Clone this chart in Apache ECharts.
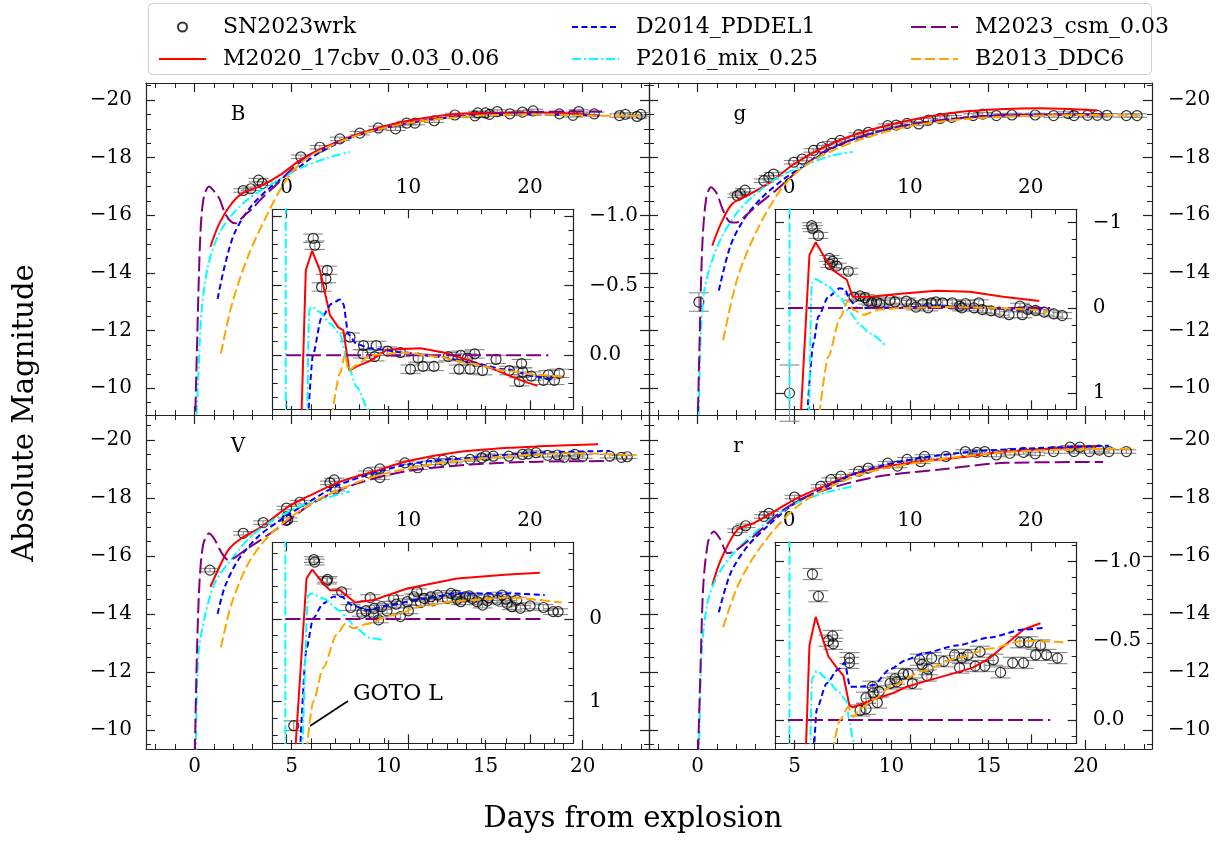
<!DOCTYPE html>
<html><head><meta charset="utf-8">
<script src="https://cdn.jsdelivr.net/npm/echarts@6/dist/echarts.min.js"></script>
<style>html,body{margin:0;padding:0;background:#fff}#c{width:1229px;height:844px}</style>
</head><body><div id="c"></div>
<script>
// ---------------- DATA ----------------
const BANDS = ['B','g','V','r'];
const NAMES = {SN:'SN2023wrk', M2020:'M2020_17cbv_0.03_0.06', D2014:'D2014_PDDEL1', P2016:'P2016_mix_0.25', M2023:'M2023_csm_0.03', B2013:'B2013_DDC6'};

// main-panel axes
const MAIN_X_TICKS = [0,5,10,15,20];
const MAIN_Y_TICKS = [-20,-18,-16,-14,-12,-10];
const INSET_X_TICKS = [0,10,20];
const INSET_Y_TICKS_B = [-1,-0.5,0];
const INSET_Y_TICKS_G = [-1,0,1];
const INSET_Y_TICKS_V = [0,1];
const INSET_Y_TICKS_R = [-1,-0.5,0];

// ---- B band, main ----
const B_SN = [[2.51,-16.86],[2.9,-16.92],[3.3,-17.22],[3.5,-17.1],[5.48,-18.03],[6.46,-18.36],[7.49,-18.65],[8.52,-18.85],[9.47,-19.03],[10.36,-19.0],[10.93,-19.2],[11.36,-19.2],[12.35,-19.28],[13.42,-19.48],[14.45,-19.45],[14.6,-19.55],[15.0,-19.55],[15.2,-19.5],[15.6,-19.6],[16.25,-19.52],[16.9,-19.58],[17.45,-19.62],[18.8,-19.52],[19.5,-19.47],[19.8,-19.6],[20.6,-19.52],[21.9,-19.46],[22.2,-19.5],[22.8,-19.43],[23.0,-19.5]];
const B_M2020 = [[0.82,-14.9],[1.2,-15.6],[1.77,-16.28],[2.42,-16.74],[3.45,-17.03],[4.48,-17.43],[5.52,-17.95],[6.72,-18.36],[8.44,-18.82],[11.0,-19.28],[14.45,-19.55],[17.9,-19.57],[20.8,-19.46]];
const B_D2014 = [[1.19,-13.1],[1.56,-14.26],[2.08,-15.41],[2.94,-16.33],[4.14,-17.1],[5.34,-17.65],[6.5,-18.2],[8.5,-18.8],[11.0,-19.2],[14.5,-19.47],[18.0,-19.5],[21.0,-19.45]];
const B_P2016 = [[0.06,-8.5],[0.19,-10.33],[0.36,-12.65],[0.7,-14.26],[1.22,-15.3],[1.9,-15.99],[2.77,-16.57],[4.14,-17.15],[5.34,-17.6],[6.89,-18.0],[8.0,-18.2]];
const B_M2023 = [[0.02,-8.5],[0.15,-12.0],[0.3,-15.3],[0.47,-16.6],[0.75,-17.0],[1.05,-16.8],[1.3,-16.55],[1.55,-16.1],[1.85,-15.8],[2.1,-15.72],[2.5,-15.95],[3.0,-16.25],[3.56,-16.65],[4.2,-17.05],[5.0,-17.6],[6.0,-18.1],[8.0,-18.7],[10.0,-19.05],[13.0,-19.4],[16.0,-19.55],[19.0,-19.6],[21.0,-19.6]];
const B_B2013 = [[1.36,-11.2],[1.91,-12.87],[2.77,-14.6],[3.8,-16.1],[4.65,-17.15],[5.52,-17.84],[6.5,-18.25],[8.5,-18.8],[11.0,-19.2],[14.5,-19.45],[18.0,-19.5],[21.0,-19.45],[23.1,-19.45]];

// ---- g band, main ----
const G_SN = [[0.07,-12.99,0.32],[2.05,-16.68],[2.2,-16.74],[2.45,-16.87],[3.42,-17.2],[3.68,-17.32],[3.92,-17.43],[4.96,-17.84],[5.39,-17.95],[5.98,-18.25],[6.4,-18.36],[6.93,-18.5],[7.35,-18.6],[8.3,-18.8],[8.8,-18.88],[9.8,-19.11],[10.24,-19.13],[10.8,-19.19],[11.4,-19.17],[11.9,-19.3],[12.5,-19.36],[13.1,-19.4],[14.2,-19.46],[14.7,-19.51],[15.4,-19.46],[16.2,-19.48],[17.4,-19.48],[18.35,-19.46],[19.1,-19.53],[19.4,-19.46],[20.1,-19.47],[20.6,-19.47],[21.1,-19.47],[22.1,-19.46],[22.65,-19.46]];
const G_M2020 = [[0.76,-14.95],[1.2,-15.7],[1.79,-16.4],[2.73,-16.74],[3.76,-17.15],[4.96,-17.77],[6.5,-18.36],[8.2,-18.82],[10.8,-19.28],[13.3,-19.57],[15.9,-19.69],[17.6,-19.71],[20.6,-19.64]];
const G_D2014 = [[1.1,-13.39],[1.7,-14.95],[2.4,-15.87],[3.24,-16.56],[4.45,-17.26],[5.65,-17.78],[7.0,-18.35],[9.0,-18.85],[11.0,-19.15],[14.0,-19.4],[17.0,-19.48],[21.0,-19.5]];
const G_P2016 = [[0.05,-8.5],[0.15,-11.5],[0.33,-13.3],[0.67,-14.26],[1.2,-15.18],[2.05,-16.1],[3.1,-16.8],[4.3,-17.38],[5.7,-17.78],[6.9,-18.07],[8.0,-18.2]];
const G_M2023 = [[0.0,-8.5],[0.12,-12.0],[0.25,-15.0],[0.45,-16.6],[0.7,-16.97],[1.0,-16.75],[1.3,-16.2],[1.7,-15.76],[2.0,-15.75],[2.5,-16.0],[3.0,-16.3],[4.1,-16.9],[5.1,-17.5],[6.5,-18.2],[8.5,-18.75],[11.0,-19.15],[14.0,-19.4],[17.0,-19.5],[21.0,-19.5]];
const G_B2013 = [[1.32,-11.66],[2.05,-13.8],[3.1,-15.53],[4.3,-16.9],[5.3,-17.6],[6.5,-18.1],[8.5,-18.65],[11.0,-19.1],[14.0,-19.35],[17.0,-19.45],[20.0,-19.48],[22.8,-19.46]];

// ---- V band, main ----
const V_SN = [[0.79,-15.51],[2.51,-16.78],[3.54,-17.15],[4.74,-17.65],[4.8,-17.25],[5.43,-17.85],[6.98,-18.52],[7.2,-18.62],[7.25,-18.3],[8.95,-18.87],[9.55,-19.0],[9.55,-18.7],[10.84,-19.21],[11.5,-19.04],[12.2,-19.21],[12.8,-19.3],[13.3,-19.27],[14.2,-19.33],[14.8,-19.38],[15.0,-19.45],[15.4,-19.44],[16.2,-19.44],[16.9,-19.5],[17.2,-19.52],[17.6,-19.56],[18.2,-19.47],[18.7,-19.48],[19.05,-19.4],[19.6,-19.5],[20.0,-19.43],[21.4,-19.44],[22.0,-19.4],[22.3,-19.42]];
const V_M2020 = [[0.82,-14.93],[1.74,-16.2],[2.42,-16.61],[3.45,-17.0],[4.83,-17.7],[5.84,-18.05],[7.55,-18.57],[9.3,-18.92],[11.0,-19.27],[13.6,-19.58],[16.2,-19.73],[18.8,-19.81],[20.8,-19.85]];
const V_D2014 = [[1.19,-14.0],[1.56,-14.93],[2.25,-15.86],[3.3,-16.68],[4.5,-17.27],[5.84,-17.84],[7.55,-18.48],[11.0,-19.16],[14.4,-19.39],[17.8,-19.56],[21.4,-19.62]];
const V_P2016 = [[0.06,-8.5],[0.19,-12.5],[0.53,-13.9],[1.05,-15.07],[1.9,-15.88],[2.94,-16.69],[4.14,-17.27],[5.5,-17.73],[6.9,-18.02],[8.0,-18.22]];
const V_M2023 = [[0.0,-8.5],[0.1,-12.0],[0.25,-15.0],[0.45,-16.4],[0.75,-16.78],[1.05,-16.55],[1.4,-16.1],[1.74,-15.86],[2.1,-15.95],[2.6,-16.2],[3.3,-16.5],[4.6,-17.1],[6.15,-17.85],[8.4,-18.5],[11.0,-18.93],[14.4,-19.16],[17.8,-19.25],[21.4,-19.27]];
const V_B2013 = [[1.36,-12.85],[1.91,-14.35],[2.77,-15.74],[3.8,-16.67],[5.0,-17.36],[6.7,-18.05],[9.3,-18.75],[12.7,-19.21],[16.2,-19.44],[19.6,-19.54],[22.7,-19.47]];

// ---- r band, main ----
const R_SN = [[2.05,-16.87],[2.48,-17.04],[3.42,-17.36],[3.68,-17.47],[5.0,-18.03],[6.35,-18.4],[6.87,-18.63],[7.39,-18.75],[8.3,-18.92],[8.8,-19.03],[9.8,-19.2],[10.3,-19.1],[10.8,-19.33],[11.5,-19.25],[11.7,-19.43],[12.8,-19.43],[13.8,-19.6],[14.4,-19.57],[14.8,-19.6],[15.4,-19.48],[16.1,-19.54],[16.8,-19.57],[17.4,-19.52],[18.35,-19.6],[19.2,-19.75],[19.4,-19.6],[19.7,-19.75],[20.2,-19.6],[20.7,-19.65],[21.2,-19.6],[22.1,-19.6]];
const R_M2020 = [[0.76,-14.99],[1.2,-15.86],[2.05,-16.9],[2.9,-17.13],[3.95,-17.53],[5.15,-18.0],[6.5,-18.4],[8.2,-18.86],[10.8,-19.2],[13.3,-19.38],[15.9,-19.6],[18.5,-19.72],[20.7,-19.8]];
const R_D2014 = [[1.1,-14.06],[1.7,-15.4],[2.56,-16.32],[3.6,-17.02],[4.8,-17.71],[6.0,-18.17],[8.2,-18.86],[10.8,-19.3],[14.2,-19.6],[17.6,-19.72],[21.2,-19.8]];
const R_P2016 = [[0.07,-8.5],[0.2,-12.5],[0.5,-14.35],[1.0,-15.28],[1.7,-15.97],[2.73,-16.67],[3.95,-17.36],[5.3,-17.88],[6.7,-18.2],[8.0,-18.4]];
const R_M2023 = [[0.0,-8.5],[0.15,-12.0],[0.3,-15.0],[0.55,-16.5],[0.84,-16.84],[1.15,-16.6],[1.56,-16.09],[2.0,-16.2],[3.1,-16.8],[4.45,-17.6],[6.0,-18.15],[9.0,-18.7],[12.5,-18.98],[15.9,-19.21],[20.9,-19.24]];
const R_B2013 = [[1.32,-13.54],[2.05,-14.93],[2.9,-15.97],[3.95,-16.9],[5.15,-17.71],[6.7,-18.35],[9.0,-18.92],[12.5,-19.33],[15.9,-19.58],[19.3,-19.67],[22.5,-19.7]];

// ---- insets ----
const B_IN_SN = [[2.18,-0.84],[2.31,-0.79],[2.87,-0.49],[3.22,-0.55],[3.33,-0.61],[5.2,-0.13],[6.31,-0.07],[6.26,-0.01],[7.36,-0.07],[7.22,0.01],[8.29,-0.03],[9.34,-0.02],[10.17,0.10],[10.8,0.02],[11.2,0.08],[12.1,0.08],[13.28,0.01],[14.16,0.10],[14.3,0.0],[14.85,0.02],[15.07,0.10],[15.45,-0.01],[16.09,0.11],[17.2,0.03],[18.29,0.11],[19.12,0.19],[19.3,0.06],[19.4,0.12],[20.1,0.15],[21.1,0.18],[21.5,0.14],[22.0,0.18],[22.4,0.13]];
const B_IN_M2020 = [[1.21,0.45],[1.57,-0.61],[2.09,-0.75],[2.73,-0.61],[3.55,-0.29],[4.24,-0.2],[4.65,-0.18],[5.15,0.11],[5.76,0.08],[6.86,0.04],[8.24,-0.04],[11.0,-0.05],[12.9,-0.02],[15.1,0.04],[17.3,0.11],[19.26,0.18],[20.6,0.22]];
const B_IN_D2014 = [[1.76,0.45],[2.17,-0.01],[2.86,-0.27],[3.69,-0.37],[4.38,-0.40],[4.65,-0.37],[5.07,-0.15],[5.76,-0.08],[6.86,-0.05],[9.6,-0.02],[12.4,0.01],[15.1,0.05],[17.9,0.10],[20.6,0.155],[22.0,0.18]];
const B_IN_P2016_EARLY = [[-0.08,0.45],[-0.08,-1.1]];
const B_IN_P2016 = [[1.68,0.45],[1.85,-0.32],[2.04,-0.35],[2.73,-0.31],[3.55,-0.23],[4.38,-0.15],[5.07,0.08],[5.76,0.23],[6.72,0.39],[6.9,0.42]];
const B_IN_M2023 = [[-0.05,0],[21.5,0]];
const B_IN_B2013 = [[3.69,0.45],[4.38,0.13],[4.8,-0.01],[5.07,0.11],[5.76,0.07],[6.86,0.0],[9.6,-0.02],[12.4,0.01],[15.1,0.06],[17.9,0.11],[20.6,0.14],[22.6,0.155]];

const G_IN_SN = [[0.03,1.0,0.33],[1.87,-0.965],[1.95,-0.93],[2.42,-0.85],[3.33,-0.58],[3.6,-0.545],[3.39,-0.51],[3.94,-0.49],[4.9,-0.43],[5.37,-0.126],[5.87,-0.14],[6.28,-0.12],[6.56,-0.08],[6.83,-0.06],[7.24,-0.07],[7.5,-0.05],[8.35,-0.09],[8.76,-0.07],[9.7,-0.08],[10.1,-0.05],[10.5,-0.01],[11.07,-0.05],[11.5,0.0],[11.76,-0.06],[12.15,-0.07],[12.7,-0.06],[13.5,-0.06],[14.1,-0.02],[14.3,0.0],[14.6,-0.05],[15.3,0.0],[15.7,-0.06],[16.0,0.02],[16.7,0.035],[17.4,0.05],[18.2,0.08],[19.1,-0.02],[19.3,0.08],[19.75,0.02],[20.4,0.03],[21.1,0.05],[21.9,0.07],[22.6,0.09]];
const G_IN_M2020 = [[0.97,1.25],[1.68,-0.62],[2.2,-0.77],[3.53,-0.45],[4.77,-0.33],[5.26,-0.13],[6.7,-0.13],[9.45,-0.17],[12.2,-0.2],[14.96,-0.19],[17.7,-0.13],[20.7,-0.08]];
const G_IN_D2014 = [[1.5,1.25],[2.0,0.42],[2.42,0.10],[3.25,-0.13],[4.2,-0.23],[4.6,-0.22],[5.04,-0.09],[5.6,0.0],[8.0,0.0],[12.0,-0.02],[16.0,0.0],[19.0,0.02],[21.2,0.02]];
const G_IN_P2016_EARLY = [[0.03,1.3],[0.03,-1.3]];
const G_IN_P2016 = [[1.66,1.25],[1.87,-0.29],[2.15,-0.34],[3.1,-0.27],[4.2,-0.13],[5.04,0.06],[5.87,0.2],[6.7,0.3],[7.93,0.435]];
const G_IN_M2023 = [[-0.1,0],[21.6,0]];
const G_IN_B2013 = [[2.5,1.25],[3.25,0.57],[4.2,0.12],[4.9,-0.09],[5.26,0.02],[6.15,0.08],[7.5,0.02],[9.45,0.0],[13.0,-0.01],[17.0,0.0],[20.0,0.02],[21.4,0.05]];

const V_IN_SN = [[0.58,1.29,0.06],[2.23,-0.72],[2.3,-0.69],[3.28,-0.46],[3.35,-0.48],[4.52,-0.33],[5.26,-0.14],[6.17,-0.07],[6.5,-0.1],[6.86,-0.26],[7.13,-0.06],[7.2,-0.13],[7.55,0.01],[7.8,-0.15],[8.24,-0.1],[8.79,-0.25],[9.0,-0.18],[9.34,-0.03],[9.9,-0.21],[10.0,-0.1],[10.46,-0.27],[10.7,-0.33],[11.0,-0.2],[11.3,-0.25],[11.85,-0.27],[12.0,-0.22],[12.4,-0.29],[13.2,-0.25],[13.5,-0.31],[13.9,-0.29],[14.0,-0.24],[14.3,-0.21],[14.7,-0.27],[15.0,-0.28],[15.25,-0.25],[15.65,-0.21],[16.1,-0.17],[16.5,-0.22],[16.6,-0.26],[17.3,-0.23],[17.7,-0.29],[18.0,-0.24],[18.1,-0.19],[18.5,-0.15],[18.9,-0.23],[19.2,-0.13],[20.0,-0.16],[21.1,-0.14],[21.9,-0.09],[22.3,-0.09]];
const V_IN_M2020 = [[0.7,1.6],[1.63,-0.49],[2.1,-0.60],[3.0,-0.43],[3.55,-0.35],[4.38,-0.35],[5.62,-0.2],[7.13,-0.23],[9.9,-0.37],[14.0,-0.49],[18.2,-0.54],[20.8,-0.56]];
const V_IN_D2014 = [[1.1,1.6],[1.63,0.35],[2.18,-0.01],[3.0,-0.19],[3.83,-0.27],[4.52,-0.27],[5.35,-0.17],[6.6,-0.11],[8.5,-0.17],[11.3,-0.25],[14.0,-0.31],[18.2,-0.31],[21.2,-0.29]];
const V_IN_P2016_EARLY = [[-0.11,1.6],[-0.11,-1.0]];
const V_IN_P2016 = [[1.3,1.6],[1.76,-0.29],[2.04,-0.31],[3.0,-0.25],[4.4,-0.1],[5.0,0.0],[5.76,0.12],[6.86,0.23],[7.8,0.25]];
const V_IN_M2023 = [[-0.1,0],[21.2,0]];
const V_IN_B2013 = [[1.63,1.6],[2.18,1.0],[3.0,0.59],[4.1,0.19],[4.8,0.06],[5.5,0.11],[6.6,0.06],[8.5,-0.04],[11.3,-0.16],[14.0,-0.22],[18.2,-0.26],[22.6,-0.2]];

const R_IN_SN = [[1.93,-0.92],[2.42,-0.78],[3.25,-0.50],[3.6,-0.53],[3.65,-0.48],[4.99,-0.39],[4.99,-0.36],[5.87,-0.06],[6.36,-0.07],[6.36,-0.14],[6.9,-0.21],[6.95,-0.17],[7.3,-0.11],[7.44,-0.18],[8.35,-0.23],[8.76,-0.26],[8.9,-0.24],[9.45,-0.29],[9.86,-0.29],[10.2,-0.23],[10.8,-0.38],[11.0,-0.35],[11.4,-0.28],[11.5,-0.32],[11.8,-0.39],[12.8,-0.37],[13.7,-0.41],[14.1,-0.33],[14.3,-0.39],[14.8,-0.41],[15.4,-0.34],[15.8,-0.43],[16.2,-0.34],[16.9,-0.38],[17.5,-0.30],[18.5,-0.36],[19.1,-0.49],[19.4,-0.36],[19.8,-0.49],[20.4,-0.41],[20.8,-0.47],[21.3,-0.41],[22.2,-0.39]];
const R_IN_M2020 = [[1.38,0.2],[1.68,-0.47],[2.2,-0.65],[3.25,-0.40],[3.94,-0.33],[4.49,-0.28],[4.99,-0.09],[5.3,-0.08],[6.97,-0.13],[8.63,-0.17],[9.73,-0.21],[11.1,-0.24],[12.5,-0.27],[13.9,-0.30],[15.2,-0.33],[16.6,-0.39],[18.0,-0.48],[19.4,-0.57],[20.8,-0.61]];
const R_IN_D2014 = [[2.05,0.2],[2.29,-0.07],[3.1,-0.23],[4.05,-0.32],[4.6,-0.36],[5.04,-0.21],[5.87,-0.21],[6.97,-0.22],[8.35,-0.32],[9.73,-0.38],[11.1,-0.42],[13.9,-0.47],[16.6,-0.52],[19.4,-0.57],[21.0,-0.58]];
const R_IN_P2016_EARLY = [[0.03,0.2],[0.03,-1.2]];
const R_IN_P2016 = [[1.75,0.2],[1.88,-0.26],[2.3,-0.31],[3.1,-0.26],[4.05,-0.18],[4.75,-0.12],[4.96,0.0],[5.3,0.13],[5.6,0.2]];
const R_IN_M2023 = [[-0.1,0],[21.6,0]];
const R_IN_B2013 = [[3.6,0.2],[4.2,0.0],[4.9,-0.08],[5.3,-0.02],[5.87,-0.07],[6.97,-0.13],[8.63,-0.22],[11.1,-0.31],[13.9,-0.39],[16.6,-0.45],[19.4,-0.50],[22.7,-0.49]];

// ---------------- STYLE / LAYOUT ----------------
const FONT = 'DejaVu Serif';
const AX = '#222';
const STY = {
  M2020:{color:'#ff0000', width:2, type:'solid'},
  D2014:{color:'#0000ff', width:2, type:[6,3.5]},
  P2016:{color:'#00ffff', width:2, type:[9,3,2,3]},
  M2023:{color:'#800080', width:2, type:[15,5]},
  B2013:{color:'#ffa500', width:2, type:[10,4]}
};
const MAIN_BOX = [{left:146,top:83,w:503,h:332},{left:649,top:83,w:503,h:332},{left:146,top:415,w:503,h:334},{left:649,top:415,w:503,h:334}];
const INSET_BOX = [{left:272.7,top:209.3,w:300.6,h:200},{left:775,top:209.3,w:301.7,h:200},{left:272.7,top:542.3,w:300.6,h:201},{left:775,top:542.3,w:301.7,h:201}];
const MAIN_XR = [-2.5, 23.42];
const MAIN_YR = [[-20.59,-9.07],[-20.59,-9.07],[-20.86,-9.34],[-20.86,-9.34]];
const INSET_XR = [[-1.15,23.55],[-1.17,23.8],[-1.15,23.55],[-1.17,23.8]];
const INSET_YR = [[-1.048,0.388],[-1.157,1.19],[-0.929,1.503],[-1.12,0.147]];

function steps(a,b,s){const r=[];for(let i=0;a+i*s<=b+1e-9;i++) r.push(+(a+i*s).toFixed(4));return r;}
const minus = s => s.replace('-', '\u2212');
const fmtInt = v => minus(String(Math.round(v)));
const fmt1 = v => minus((Math.abs(v)<1e-9?0:v).toFixed(1));

const grids=[], xAxes=[], yAxes=[], series=[];
function tickAxis(list, base, major, minor, labelOn, fmt, margin){
  list.push(Object.assign({}, base, {
    axisLine:{show:true,onZero:false,lineStyle:{color:AX,width:1.2}},
    axisTick:{show:true,inside:true,length:9,customValues:major,lineStyle:{color:AX,width:1.2}},
    axisLabel:{show:labelOn,customValues:major,formatter:fmt,margin:margin,fontFamily:FONT,fontSize:20,color:'#000'},
    splitLine:{show:false}
  }));
  list.push(Object.assign({}, base, {
    axisLine:{show:false,onZero:false},
    axisTick:{show:true,inside:true,length:5,customValues:minor,lineStyle:{color:AX,width:1}},
    axisLabel:{show:false}, splitLine:{show:false}
  }));
}
function addGrid(box, xr, yr, xMaj, xMin, yMaj, yMin, lab, fx, fy, inset){
  const gi = grids.length;
  grids.push({left:box.left, top:box.top, width:box.w, height:box.h, show:inset, backgroundColor:'#fff', borderWidth:0});
  const bx = {type:'value', gridIndex:gi, min:xr[0], max:xr[1]};
  const by = {type:'value', gridIndex:gi, min:yr[0], max:yr[1], inverse:true};
  tickAxis(xAxes, Object.assign({position:'bottom'}, bx), xMaj, xMin, lab.xb, fx, 8);
  tickAxis(xAxes, Object.assign({position:'top'}, bx), xMaj, xMin, lab.xt, fx, 12);
  tickAxis(yAxes, Object.assign({position:'left'}, by), yMaj, yMin, lab.yl, fy, 14);
  tickAxis(yAxes, Object.assign({position:'right'}, by), yMaj, yMin, lab.yr, fy, 16);
  return gi;
}
function errRender(params, api){
  const x=api.value(0), y=api.value(1), e=api.value(2);
  const p1=api.coord([x,y-e]), p2=api.coord([x,y+e]);
  const hw=10, st={stroke:'#8a8a8a',lineWidth:1.1};
  return {type:'group', children:[
    {type:'line', shape:{x1:p1[0],y1:p1[1],x2:p2[0],y2:p2[1]}, style:st},
    {type:'line', shape:{x1:p1[0]-hw,y1:p1[1],x2:p1[0]+hw,y2:p1[1]}, style:st},
    {type:'line', shape:{x1:p2[0]-hw,y1:p2[1],x2:p2[0]+hw,y2:p2[1]}, style:st}
  ]};
}
function addSN(gi, data, defErr){
  series.push({type:'custom', name:'errorbar', xAxisIndex:gi*4, yAxisIndex:gi*4, silent:true, z:1,
    data:data.map(d=>[d[0],d[1],d.length>2?d[2]:defErr]), encode:{x:0,y:1}, renderItem:errRender});
  series.push({type:'scatter', name:NAMES.SN, xAxisIndex:gi*4, yAxisIndex:gi*4, silent:true, z:2,
    data:data.map(d=>[d[0],d[1]]), symbol:'circle', symbolSize:10,
    itemStyle:{color:'rgba(255,255,255,0)', borderColor:'#000', borderWidth:1.2}});
}
function addModel(gi, key, data, smooth, mono){
  const s=STY[key];
  const o={type:'line', name:NAMES[key], xAxisIndex:gi*4, yAxisIndex:gi*4, data:data, symbol:'none', showSymbol:false,
    lineStyle:{color:s.color,width:s.width,type:s.type}, itemStyle:{color:s.color}, z:3, silent:true, clip:true};
  if (smooth){o.smooth=smooth; if (mono) o.smoothMonotone='x';}
  series.push(o);
}

const MAIN_DATA = [
  {sn:B_SN, M2020:B_M2020, D2014:B_D2014, P2016:B_P2016, M2023:B_M2023, B2013:B_B2013},
  {sn:G_SN, M2020:G_M2020, D2014:G_D2014, P2016:G_P2016, M2023:G_M2023, B2013:G_B2013},
  {sn:V_SN, M2020:V_M2020, D2014:V_D2014, P2016:V_P2016, M2023:V_M2023, B2013:V_B2013},
  {sn:R_SN, M2020:R_M2020, D2014:R_D2014, P2016:R_P2016, M2023:R_M2023, B2013:R_B2013}
];
const INSET_DATA = [
  {sn:B_IN_SN, M2020:B_IN_M2020, D2014:B_IN_D2014, P2016:B_IN_P2016, early:B_IN_P2016_EARLY, M2023:B_IN_M2023, B2013:B_IN_B2013, ticks:INSET_Y_TICKS_B, minor:steps(-1,0.3,0.1), fmt:fmt1, err:0.03},
  {sn:G_IN_SN, M2020:G_IN_M2020, D2014:G_IN_D2014, P2016:G_IN_P2016, early:G_IN_P2016_EARLY, M2023:G_IN_M2023, B2013:G_IN_B2013, ticks:INSET_Y_TICKS_G, minor:steps(-1,1,0.2), fmt:fmtInt, err:0.035},
  {sn:V_IN_SN, M2020:V_IN_M2020, D2014:V_IN_D2014, P2016:V_IN_P2016, early:V_IN_P2016_EARLY, M2023:V_IN_M2023, B2013:V_IN_B2013, ticks:INSET_Y_TICKS_V, minor:steps(-0.8,1.4,0.2), fmt:fmtInt, err:0.035},
  {sn:R_IN_SN, M2020:R_IN_M2020, D2014:R_IN_D2014, P2016:R_IN_P2016, early:R_IN_P2016_EARLY, M2023:R_IN_M2023, B2013:R_IN_B2013, ticks:INSET_Y_TICKS_R, minor:steps(-1.1,0.1,0.1), fmt:fmt1, err:0.035}
];

for (let p=0;p<4;p++){
  const leftCol = (p%2===0), bottomRow = (p>=2);
  const gm = addGrid(MAIN_BOX[p], MAIN_XR, MAIN_YR[p], MAIN_X_TICKS, steps(-2,23,1), MAIN_Y_TICKS, steps(-20.5,-9.5,0.5),
    {xb:bottomRow, xt:false, yl:leftCol, yr:!leftCol}, fmtInt, fmtInt, false);
  const md = MAIN_DATA[p];
  addSN(gm, md.sn, 0.06);
  ['M2020','D2014','P2016','M2023','B2013'].forEach(k=>addModel(gm,k,md[k],0.3,false));
}
for (let p=0;p<4;p++){
  const d = INSET_DATA[p];
  const gi = addGrid(INSET_BOX[p], INSET_XR[p], INSET_YR[p], INSET_X_TICKS, steps(0,22,2), d.ticks, d.minor,
    {xb:false, xt:true, yl:false, yr:true}, fmtInt, d.fmt, true);
  addSN(gi, d.sn, d.err);
  addModel(gi,'M2020',d.M2020,0);
  addModel(gi,'D2014',d.D2014,0.25,true);
  addModel(gi,'P2016',d.early,0);
  addModel(gi,'P2016',d.P2016,0.25,true);
  addModel(gi,'M2023',d.M2023,0);
  addModel(gi,'B2013',d.B2013,0.25,true);
}

const legendBase = {orient:'vertical', top:10, itemWidth:47, itemHeight:9, itemGap:8, selectedMode:false,
  textStyle:{fontFamily:FONT, fontSize:22, color:'#000', lineHeight:24, padding:[0,0,0,12]}};
const lineItem = n => ({name:n, itemStyle:{opacity:0, borderWidth:0, color:'rgba(0,0,0,0)'}});
const legends = [
  Object.assign({}, legendBase, {left:153, data:[NAMES.SN, lineItem(NAMES.M2020)]}),
  Object.assign({}, legendBase, {left:566, data:[lineItem(NAMES.D2014), lineItem(NAMES.P2016)]}),
  Object.assign({}, legendBase, {left:905, data:[lineItem(NAMES.M2023), lineItem(NAMES.B2013)]})
];

const LETTER_POS = [[238,114.5],[740,114.5],[238,447],[738,447]];
const graphics = [
  {type:'rect', z:0, shape:{x:148.5,y:3.5,width:1003,height:71,r:4}, style:{fill:'none', stroke:'#d0d0d0', lineWidth:1}},
  {type:'text', x:25, y:413, rotation:Math.PI/2, style:{text:'Absolute Magnitude', x:0, y:0, textAlign:'center', textVerticalAlign:'middle', font:'29px "DejaVu Serif"', fill:'#000'}},
  {type:'text', style:{text:'Days from explosion', x:633, y:819, textAlign:'center', textVerticalAlign:'middle', font:'29px "DejaVu Serif"', fill:'#000'}},
  {type:'line', z:50, shape:{x1:310,y1:726,x2:348,y2:701}, style:{stroke:'#000', lineWidth:1.6}},
  {type:'text', z:50, style:{text:'GOTO L', x:353, y:694, textAlign:'left', textVerticalAlign:'middle', font:'22px "DejaVu Serif"', fill:'#000'}}
];
BANDS.forEach((b,i)=>graphics.push({type:'text', z:50, style:{text:b, x:LETTER_POS[i][0], y:LETTER_POS[i][1], textAlign:'center', textVerticalAlign:'middle', font:'20px "DejaVu Serif"', fill:'#000'}}));

const chart = echarts.init(document.getElementById('c'), null, {renderer:'canvas'});
chart.setOption({
  animation:false,
  backgroundColor:'#fff',
  grid:grids, xAxis:xAxes, yAxis:yAxes,
  legend:legends,
  series:series,
  graphic:graphics
});
</script></body></html>
